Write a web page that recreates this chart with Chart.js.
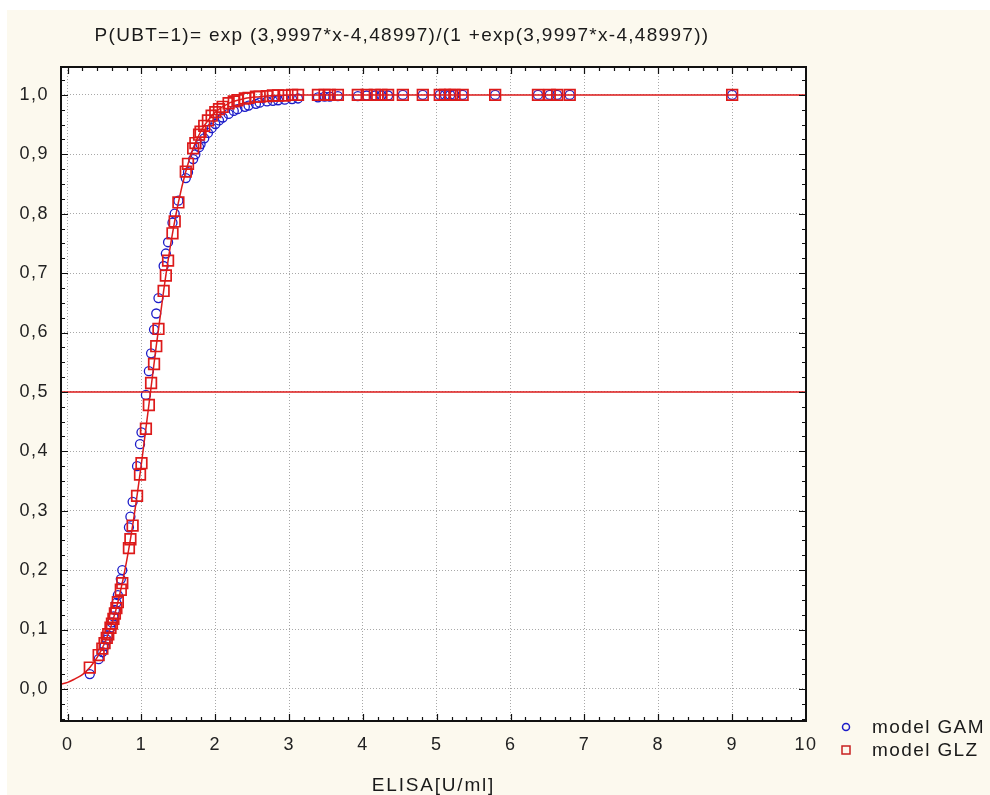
<!DOCTYPE html>
<html>
<head>
<meta charset="utf-8">
<script src="https://cdn.jsdelivr.net/npm/chart.js@4/dist/chart.umd.min.js"></script>
<style>
html,body{margin:0;padding:0;background:#fff;}
#wrap{width:990px;height:795px;}
</style>
</head>
<body>
<div id="wrap"><canvas id="c" width="990" height="795"></canvas></div>
<script>
const chartTitle = "P(UBT=1)= exp (3,9997*x-4,48997)/(1 +exp(3,9997*x-4,48997))";
const xAxisTitle = "ELISA[U/ml]";
const seriesNames = ["model GAM", "model GLZ"];

const elisa = [0.30,0.42,0.47,0.50,0.53,0.55,0.58,0.60,0.62,0.64,
  0.66,0.68,0.72,0.74,0.83,0.85,0.88,0.94,0.98,1.00,
  1.06,1.10,1.13,1.17,1.20,1.23,1.30,1.33,1.36,1.42,
  1.45,1.50,1.60,1.63,1.70,1.73,1.78,1.80,1.85,1.90,
  1.95,2.00,2.05,2.10,2.18,2.25,2.30,2.40,2.45,2.55,
  2.60,2.70,2.78,2.85,2.94,3.04,3.12,3.39,3.48,3.55,
  3.66,3.93,4.05,4.16,4.25,4.34,4.54,4.81,5.04,5.11,
  5.18,5.24,5.35,5.79,6.37,6.53,6.63,6.80,9.00];

const probGAM = [0.025,0.050,0.062,0.072,0.083,0.090,0.103,0.112,0.122,0.133,
  0.145,0.158,0.185,0.200,0.272,0.290,0.315,0.375,0.412,0.432,
  0.495,0.535,0.565,0.605,0.632,0.658,0.712,0.733,0.752,0.785,
  0.800,0.822,0.860,0.870,0.892,0.900,0.912,0.917,0.927,0.936,
  0.944,0.951,0.957,0.962,0.968,0.973,0.976,0.980,0.982,0.985,
  0.987,0.989,0.990,0.991,0.992,0.993,0.994,0.996,0.997,0.997,
  0.998,0.998,0.999,0.999,0.999,0.999,1.000,1.000,1.000,1.000,
  1.000,1.000,1.000,1.000,1.000,1.000,1.000,1.000,1.000];

const probGLZ = [0.036,0.057,0.068,0.077,0.086,0.092,0.103,0.110,0.118,0.127,
  0.136,0.146,0.167,0.178,0.237,0.252,0.275,0.325,0.361,0.380,
  0.438,0.478,0.515,0.547,0.577,0.606,0.670,0.696,0.721,0.767,
  0.787,0.819,0.871,0.884,0.910,0.919,0.933,0.938,0.948,0.957,
  0.965,0.971,0.976,0.980,0.986,0.989,0.991,0.994,0.995,0.997,
  0.997,0.998,0.999,0.999,0.999,1.000,1.000,1.000,1.000,1.000,
  1.000,1.000,1.000,1.000,1.000,1.000,1.000,1.000,1.000,1.000,
  1.000,1.000,1.000,1.000,1.000,1.000,1.000,1.000,1.000];

const curveX = [-0.1,0,0.1,0.2,0.3,0.4,0.5,0.6,0.7,0.8,0.9,1.0,1.1,1.2,1.3,1.4,1.5,1.6,1.7,1.8,1.9,2.0,2.2,2.4,2.6,2.8,3.0,3.5,10];
const curveY = [0.008,0.011,0.017,0.024,0.036,0.053,0.077,0.110,0.156,0.216,0.291,0.380,0.478,0.577,0.670,0.752,0.819,0.871,0.910,0.938,0.957,0.971,0.987,0.994,0.997,0.999,1.0,1.0,1.0];

const refLineX = [-0.1, 10];
const refLineY = [0.5, 0.5];

const xTicks = [0,1,2,3,4,5,6,7,8,9,10];
const yTicks = [0,0.1,0.2,0.3,0.4,0.5,0.6,0.7,0.8,0.9,1.0];

const RED = '#dd1a1a';
const BLUE = '#1c1cc8';
const FONT = "'Liberation Sans', Arial, sans-serif";

function pts(xs, ys){ return xs.map((x,i)=>({x:x, y:ys[i]})); }

const bgPlugin = {
  id:'bg',
  beforeDraw(chart){
    const ctx = chart.ctx, a = chart.chartArea;
    ctx.save();
    ctx.fillStyle = '#ffffff';
    ctx.fillRect(0,0,chart.width,chart.height);
    ctx.fillStyle = 'rgb(252,249,238)';
    ctx.fillRect(7,10,chart.width-7,chart.height-10);
    ctx.fillStyle = '#ffffff';
    ctx.fillRect(a.left,a.top,a.right-a.left,a.bottom-a.top);
    ctx.restore();
    ctx.letterSpacing = '1.5px';
  },
  afterDraw(chart){
    const ctx = chart.ctx, a = chart.chartArea;
    const xs = chart.scales.x, ys = chart.scales.y;
    ctx.save();
    ctx.letterSpacing = '0px';
    // frame
    ctx.strokeStyle = '#111';
    ctx.lineWidth = 2;
    ctx.strokeRect(a.left, a.top, a.right-a.left, a.bottom-a.top);
    ctx.lineWidth = 1.2;
    ctx.beginPath();
    for (let i=0; i<=50; i++){
      const v = i/5;
      const px = Math.round(xs.getPixelForValue(v))+0.5;
      if (px < a.left || px > a.right) continue;
      const len = (i%5===0) ? 7 : 4;
      ctx.moveTo(px, a.bottom); ctx.lineTo(px, a.bottom-len);
      ctx.moveTo(px, a.top); ctx.lineTo(px, a.top+len);
    }
    for (let i=-2; i<=42; i++){
      const v = i*0.025;
      const py = Math.round(ys.getPixelForValue(v))+0.5;
      if (py < a.top || py > a.bottom) continue;
      const len = (i%4===0) ? 7 : 4;
      ctx.moveTo(a.left, py); ctx.lineTo(a.left+len, py);
      ctx.moveTo(a.right, py); ctx.lineTo(a.right-len, py);
    }
    ctx.stroke();
    // title
    ctx.fillStyle = '#1a1a1a';
    ctx.textAlign = 'center';
    ctx.textBaseline = 'middle';
    ctx.font = "19px " + FONT;
    ctx.letterSpacing = '1.3px';
    ctx.fillText(chartTitle, 402, 36);
    // x axis title
    ctx.letterSpacing = '1.8px';
    ctx.fillText(xAxisTitle, (a.left + a.right)/2, 786);
    // legend
    ctx.textAlign = 'left';
    ctx.letterSpacing = '1.4px';
    ctx.fillText(seriesNames[0], 872, 728);
    ctx.fillText(seriesNames[1], 872, 751);
    ctx.lineWidth = 1.5;
    ctx.strokeStyle = BLUE;
    ctx.beginPath(); ctx.arc(846, 727, 3.5, 0, Math.PI*2); ctx.stroke();
    ctx.strokeStyle = '#c82020';
    ctx.strokeRect(842, 746, 8, 8);
    ctx.restore();
    ctx.letterSpacing = '0px';
  }
};

const tickFont = {family: FONT, size: 18};

new Chart(document.getElementById('c'), {
  type: 'scatter',
  data: {
    datasets: [
      { label:'curve', type:'line', data: pts(curveX, curveY), borderColor: RED, borderWidth: 1.5,
        pointRadius: 0, cubicInterpolationMode:'monotone', fill:false, order: 0 },
      { label:'ref', type:'line', data: pts(refLineX, refLineY), borderColor: RED, borderWidth: 1.5,
        pointRadius: 0, fill:false, order: 0 },
      { label: seriesNames[1], data: pts(elisa, probGLZ), pointStyle:'rect', pointRadius: 7.5,
        borderColor: RED, backgroundColor:'rgba(0,0,0,0)', borderWidth: 1.7, order: 1 },
      { label: seriesNames[0], data: pts(elisa, probGAM), pointStyle:'circle', pointRadius: 4.5,
        borderColor: BLUE, backgroundColor:'rgba(0,0,0,0)', borderWidth: 1.3, order: 2 }
    ]
  },
  options: {
    responsive: false,
    animation: false,
    events: [],
    layout: { padding: { top: 67, right: 184, left: 0, bottom: 0 } },
    plugins: { legend: { display:false }, tooltip: { enabled:false }, title: { display:false } },
    scales: {
      x: {
        type:'linear', min: -0.09, max: 10,
        afterBuildTicks(s){ s.ticks = xTicks.map(v=>({value:v})); },
        afterFit(s){ s.height = 74; },
        grid: { color:'#a8a8a8', lineWidth:1, drawTicks:false },
        border: { display:false, dash:[1,2] },
        ticks: { font: tickFont, color:'#222', padding: 13, maxRotation:0,
                 callback: v => String(v) },
        title: { display:false }
      },
      y: {
        type:'linear', min: -0.054, max: 1.047,
        afterBuildTicks(s){ s.ticks = yTicks.map(v=>({value:v})); },
        afterFit(s){ s.width = 61; },
        grid: { color:'#a8a8a8', lineWidth:1, drawTicks:false },
        border: { display:false, dash:[1,2] },
        ticks: { font: tickFont, color:'#222', padding: 12,
                 callback: v => v.toFixed(1).replace('.', ',') }
      }
    }
  },
  plugins: [bgPlugin]
});
</script>
</body>
</html>
